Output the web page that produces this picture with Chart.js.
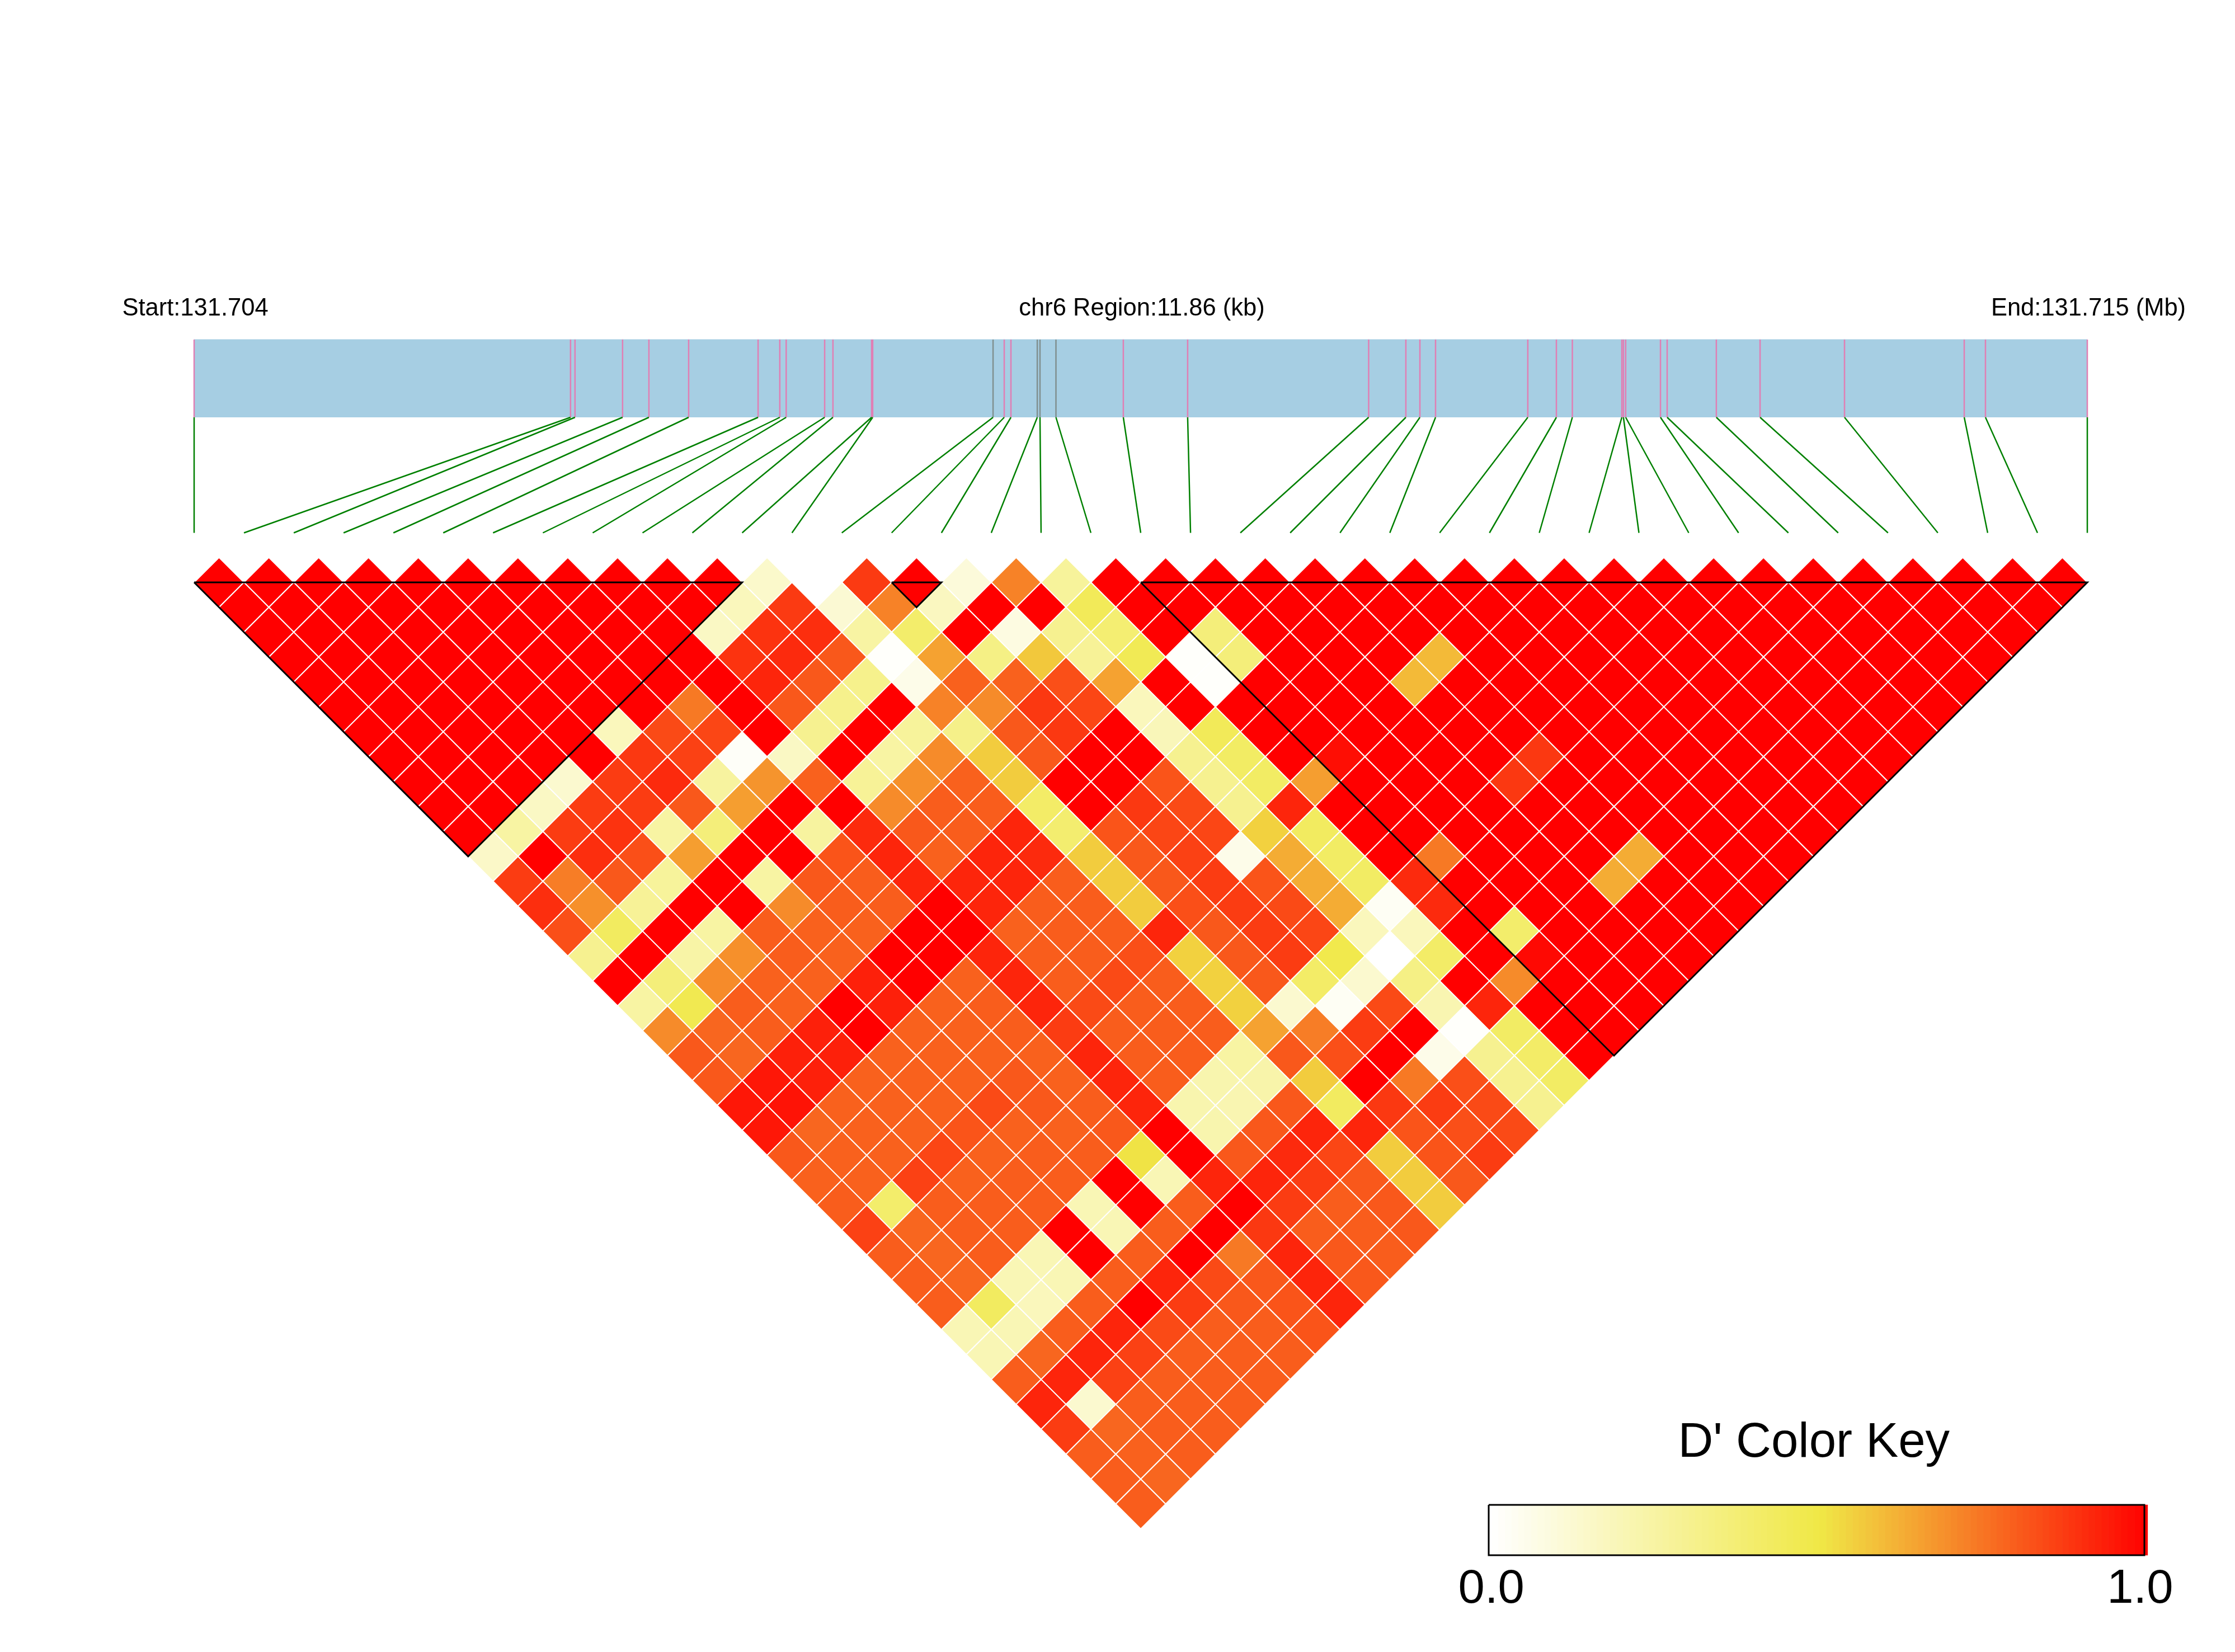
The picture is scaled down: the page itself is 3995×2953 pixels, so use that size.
<!DOCTYPE html>
<html>
<head>
<meta charset="utf-8">
<title>LD heatmap</title>
<script src="https://cdn.jsdelivr.net/npm/chart.js@4"></script>
<style>
  html, body { margin: 0; padding: 0; background: #fff; }
  canvas { display: block; }
</style>
</head>
<body>
<canvas id="ldChart" width="3995" height="2953"></canvas>
<script>
// Region labels
const startLabel = 'Start:131.704';
const regionLabel = 'chr6 Region:11.86 (kb)';
const endLabel = 'End:131.715 (Mb)';
const keyTitle = "D' Color Key";
const keyTickLabels = ['0.0', '1.0'];
const regionKb = 11.86;

// SNP positions along the region, in kb from the start
const snpKb = [
  0, 2.358, 2.386, 2.684, 2.849, 3.098, 3.533, 3.669, 3.709, 3.950,
  4.002, 4.244, 4.251, 5.005, 5.075, 5.117, 5.282, 5.299, 5.399, 5.821,
  6.224, 7.358, 7.591, 7.679, 7.777, 8.355, 8.534, 8.634, 8.944, 8.954,
  8.968, 9.186, 9.228, 9.536, 9.810, 10.339, 11.089, 11.222, 11.86
];
// These SNP ticks look grey in the band instead of pink
const greySnps = [13, 16, 17, 18];

// Haplotype blocks, first and last SNP
const blocks = [[0, 11], [14, 15], [19, 38]];

// D' values, one list per gap between SNPs (first list = neighbours), left to right
const dPrime = [
  [1,1,1,1,1,1,1,1,1,1,1,.14,0,.875,1,.1,.72,.27,1,1,1,1,1,1,1,1,1,1,1,1,1,1,1,1,1,1,1,1],
  [1,1,1,1,1,1,1,1,1,1,.18,.875,.12,.72,.17,1,1,.45,1,1,1,1,1,1,1,1,1,1,1,1,1,1,1,1,1,1,1],
  [1,1,1,1,1,1,1,1,1,.16,.89,.9,.25,.4,1,.08,.3,.38,1,.36,1,1,1,1,1,1,1,1,1,1,1,1,1,1,1,1],
  [1,1,1,1,1,1,1,1,1,.89,.91,.81,.01,.65,.33,.57,.28,.46,.01,.36,1,1,1,.6,1,1,1,1,1,1,1,1,1,1,1],
  [1,1,1,1,1,1,1,1,1,.92,.81,.31,.06,.79,.79,.83,.65,1,.01,1,1,1,.6,1,1,1,1,1,1,1,1,1,1,1],
  [1,1,1,1,1,1,1,.74,1,.81,.31,1,.72,.7,.88,.85,.18,1,1,1,1,1,1,1,1,1,1,1,1,1,1,1,1],
  [1,1,1,1,1,.18,.84,.85,1,.3,1,.27,.32,.81,.88,1,.19,.45,1,1,1,1,1,1,1,1,1,1,1,1,1,1],
  [1,1,1,1,1,.88,.86,.02,.16,1,.25,.7,.56,.81,1,1,.3,.42,1,.97,1,1,1,.88,1,1,1,1,1,1,1],
  [1,1,1,.13,.87,.91,.26,.68,.79,.28,.69,.79,.56,1,1,.82,.3,.42,.66,1,1,1,.88,1,1,1,1,1,1,1],
  [1,1,.16,.87,.87,.81,.66,1,1,.7,.8,.8,.41,1,.88,.84,.3,.92,1,1,1,1,1,1,1,1,1,1,1],
  [1,.25,.87,.89,.25,.36,1,.26,.91,.81,.8,.92,.39,.82,.85,.85,.55,.43,1,1,1,1,1,1,1,1,1,1],
  [.15,1,.9,.83,.66,1,1,.82,.92,.79,.92,.91,.56,.81,.86,.06,.63,.42,1,.74,1,1,1,.63,1,1,1],
  [.87,.73,.81,.27,1,.25,.81,.8,.92,.92,.92,.8,.56,.81,.87,.82,.63,.42,.91,1,1,1,.63,1,1,1],
  [.9,.69,.28,1,1,.7,.8,.8,1,.92,.8,.8,.56,.83,.87,.84,.63,.03,.91,1,1,1,1,1,1],
  [.83,.43,1,.25,.8,.79,.79,1,1,.79,.8,.8,.92,.81,.87,.85,.18,.18,1,.4,1,1,1,1],
  [.3,1,.24,.69,.8,.79,1,1,.92,.8,.8,.83,.55,.81,.87,.48,0,.41,1,.98,1,1,1],
  [1,.36,.7,.79,.79,.93,1,.79,.92,.8,.84,.8,.55,.81,.41,.13,.33,1,.7,1,1,1],
  [.25,.47,.8,.79,1,.93,.79,.8,.92,.84,.8,.8,.55,.13,.03,.84,.21,.92,1,1,1],
  [.7,.78,.8,.93,1,.79,.79,.8,.87,.8,.8,.8,.65,.73,.87,1,.01,.42,1,1],
  [.81,.78,.93,.93,.79,.79,.79,.79,.92,.8,.8,.25,.81,.83,1,.06,.3,.41,1],
  [.81,.95,.93,.79,.79,.79,.81,.79,.92,.8,.22,.23,.56,1,.74,.83,.3,.42],
  [.95,.96,.79,.79,.79,.84,.81,.8,.92,.22,.21,.81,.43,.88,.87,.84,.3],
  [.95,.78,.79,.79,.82,.79,.79,.81,1,.22,.81,.92,.92,.82,.83,.84],
  [.81,.79,.79,.85,.79,.8,.8,.51,1,.81,.91,.85,.56,.82,.87],
  [.79,.79,.86,.79,.8,.8,1,.2,.92,.92,.87,.81,.56,.81],
  [.8,.4,.8,.8,.8,.2,1,.8,1,.87,.8,.81,.56],
  [.86,.78,.8,.8,1,.2,.8,1,.88,.8,.8,.81],
  [.8,.78,.8,.2,1,.8,1,.74,.92,.81,.8],
  [.8,.78,.2,.2,.8,.92,.84,.81,.92,.81],
  [.8,.43,.18,.8,1,.87,.81,.82,.92],
  [.2,.2,.8,.92,.84,.8,.8,.82],
  [.2,.78,.92,.86,.8,.8,.8],
  [.8,.92,.86,.8,.8,.8],
  [.92,.13,.8,.8,.8],
  [.87,.78,.8,.8],
  [.8,.79,.8],
  [.8,.78],
  [.8]
];

// Page layout, in pixels
const W = 3995, H = 2953;
const triLeft = 347, triRight = 3731, triTop = 1041;
const keyLeft = 2661, keyRight = 3833;
const snpCount = snpKb.length;
const snpPx = (triRight - triLeft) / (snpCount - 1);

// Vertical positions, in SNP spacings below the top of the triangle
const py = px => (px - triTop) / snpPx;
const bandTop = py(607), bandBottom = py(746), connectorEnd = py(952.5);
const keyTop = py(2690), keyBottom = py(2780);
const headerBase = py(564), keyTitleBase = py(2604), keyTickBase = py(2865);
// Text sits a little off the ends and centre of what it labels
const headerNudge = 2 / snpPx;
const keyTitlePos = 0.496, keyTickPos = [0.004, 0.9935];

const kbToSnp = kb => kb / regionKb * (snpCount - 1);

// white -> yellow -> red ramp, same as the colour key
function ldColor(v) {
  const low = [255, 255, 255], mid = [240, 232, 70], high = [255, 0, 0];
  const a = v < 0.5 ? low : mid;
  const b = v < 0.5 ? mid : high;
  const t = v < 0.5 ? v / 0.5 : (v - 0.5) / 0.5;
  const c = a.map((n, i) => Math.round(n + (b[i] - n) * t));
  return `rgb(${c[0]},${c[1]},${c[2]})`;
}

// Cells: list g holds the pairs (i, i + g + 1)
const cells = [];
dPrime.forEach((row, g) => {
  row.forEach((v, i) => cells.push({ x: i + g / 2 + 0.5, y: g / 2, v: v }));
});

const gap = { x: NaN, y: NaN };
const tickLine = kb => [{ x: kbToSnp(kb), y: bandTop }, { x: kbToSnp(kb), y: bandBottom }, gap];
const pinkTicks = snpKb.flatMap((kb, i) => greySnps.includes(i) ? [] : tickLine(kb));
const greyTicks = greySnps.flatMap(i => tickLine(snpKb[i]));
const connectors = snpKb.flatMap((kb, i) => [
  { x: kbToSnp(kb), y: bandBottom }, { x: i, y: connectorEnd }, gap
]);
const blockLines = blocks.flatMap(([a, b]) => [
  { x: a, y: 0 }, { x: b, y: 0 }, { x: (a + b) / 2, y: (b - a) / 2 }, { x: a, y: 0 }, gap
]);

// Colour key steps
const keySteps = [];
for (let k = 0; k < 100; k++) keySteps.push({ x: (k + 0.5) / 100, y: [keyTop, keyBottom] });

// Text goes on last, placed through the scales
const textPlugin = {
  id: 'ldText',
  afterDraw(chart) {
    const { ctx, scales } = chart;
    ctx.save();
    ctx.fillStyle = '#000';
    ctx.textAlign = 'center';
    ctx.textBaseline = 'alphabetic';
    ctx.font = '43.5px "Liberation Sans"';
    const yHead = scales.y.getPixelForValue(headerBase);
    ctx.fillText(startLabel, scales.x.getPixelForValue(headerNudge), yHead);
    ctx.fillText(regionLabel, scales.x.getPixelForValue((snpCount - 1) / 2 + headerNudge), yHead);
    ctx.fillText(endLabel, scales.x.getPixelForValue(snpCount - 1 + headerNudge), yHead);
    ctx.font = '87px "Liberation Sans"';
    ctx.fillText(keyTitle, scales.xKey.getPixelForValue(keyTitlePos), scales.y.getPixelForValue(keyTitleBase));
    ctx.font = '85px "Liberation Sans"';
    keyTickLabels.forEach((label, i) => {
      ctx.fillText(label, scales.xKey.getPixelForValue(keyTickPos[i]), scales.y.getPixelForValue(keyTickBase));
    });
    ctx.restore();
  }
};

const lineSet = (data, color, width, order) => ({
  type: 'line', data: data, borderColor: color, borderWidth: width,
  pointRadius: 0, spanGaps: false, tension: 0, fill: false, order: order
});

new Chart(document.getElementById('ldChart'), {
  type: 'scatter',
  data: {
    datasets: [
      {
        type: 'line',
        data: [{ x: 0, y: bandTop }, { x: snpCount - 1, y: bandTop }],
        borderColor: '#A6CEE3', borderWidth: 1, backgroundColor: '#A6CEE3',
        pointRadius: 0, fill: { value: bandBottom }, order: 9
      },
      lineSet(pinkTicks, '#E07FB4', 2.5, 8),
      lineSet(greyTicks, '#80908F', 2.5, 7),
      lineSet(connectors, '#008000', 2.5, 6),
      {
        type: 'scatter',
        data: cells,
        pointStyle: 'rectRot',
        pointRadius: ctx => ctx.chart.scales.x.getPixelForValue(0.5) - ctx.chart.scales.x.getPixelForValue(0),
        pointBackgroundColor: ctx => ldColor(ctx.raw.v),
        pointBorderColor: '#fff',
        pointBorderWidth: 2,
        order: 5
      },
      lineSet(blockLines, '#000', 3, 4),
      {
        type: 'bar',
        data: keySteps,
        xAxisID: 'xKey',
        backgroundColor: ctx => ldColor(ctx.raw.x),
        barThickness: (keyRight - keyLeft) / keySteps.length,
        order: 3
      },
      Object.assign(lineSet([
        { x: 0, y: keyTop }, { x: 1, y: keyTop }, { x: 1, y: keyBottom }, { x: 0, y: keyBottom }, { x: 0, y: keyTop }
      ], '#000', 3, 2), { xAxisID: 'xKey' })
    ]
  },
  options: {
    responsive: false,
    animation: false,
    events: [],
    layout: { padding: 0 },
    plugins: { legend: { display: false }, tooltip: { enabled: false }, title: { display: false } },
    scales: {
      x: { type: 'linear', display: false, offset: false, min: -triLeft / snpPx, max: (W - triLeft) / snpPx },
      xKey: {
        type: 'linear', display: false, offset: false,
        min: -keyLeft / (keyRight - keyLeft), max: (W - keyLeft) / (keyRight - keyLeft)
      },
      y: { type: 'linear', display: false, reverse: true, min: py(0), max: py(H) }
    }
  },
  plugins: [textPlugin]
});
</script>
</body>
</html>
